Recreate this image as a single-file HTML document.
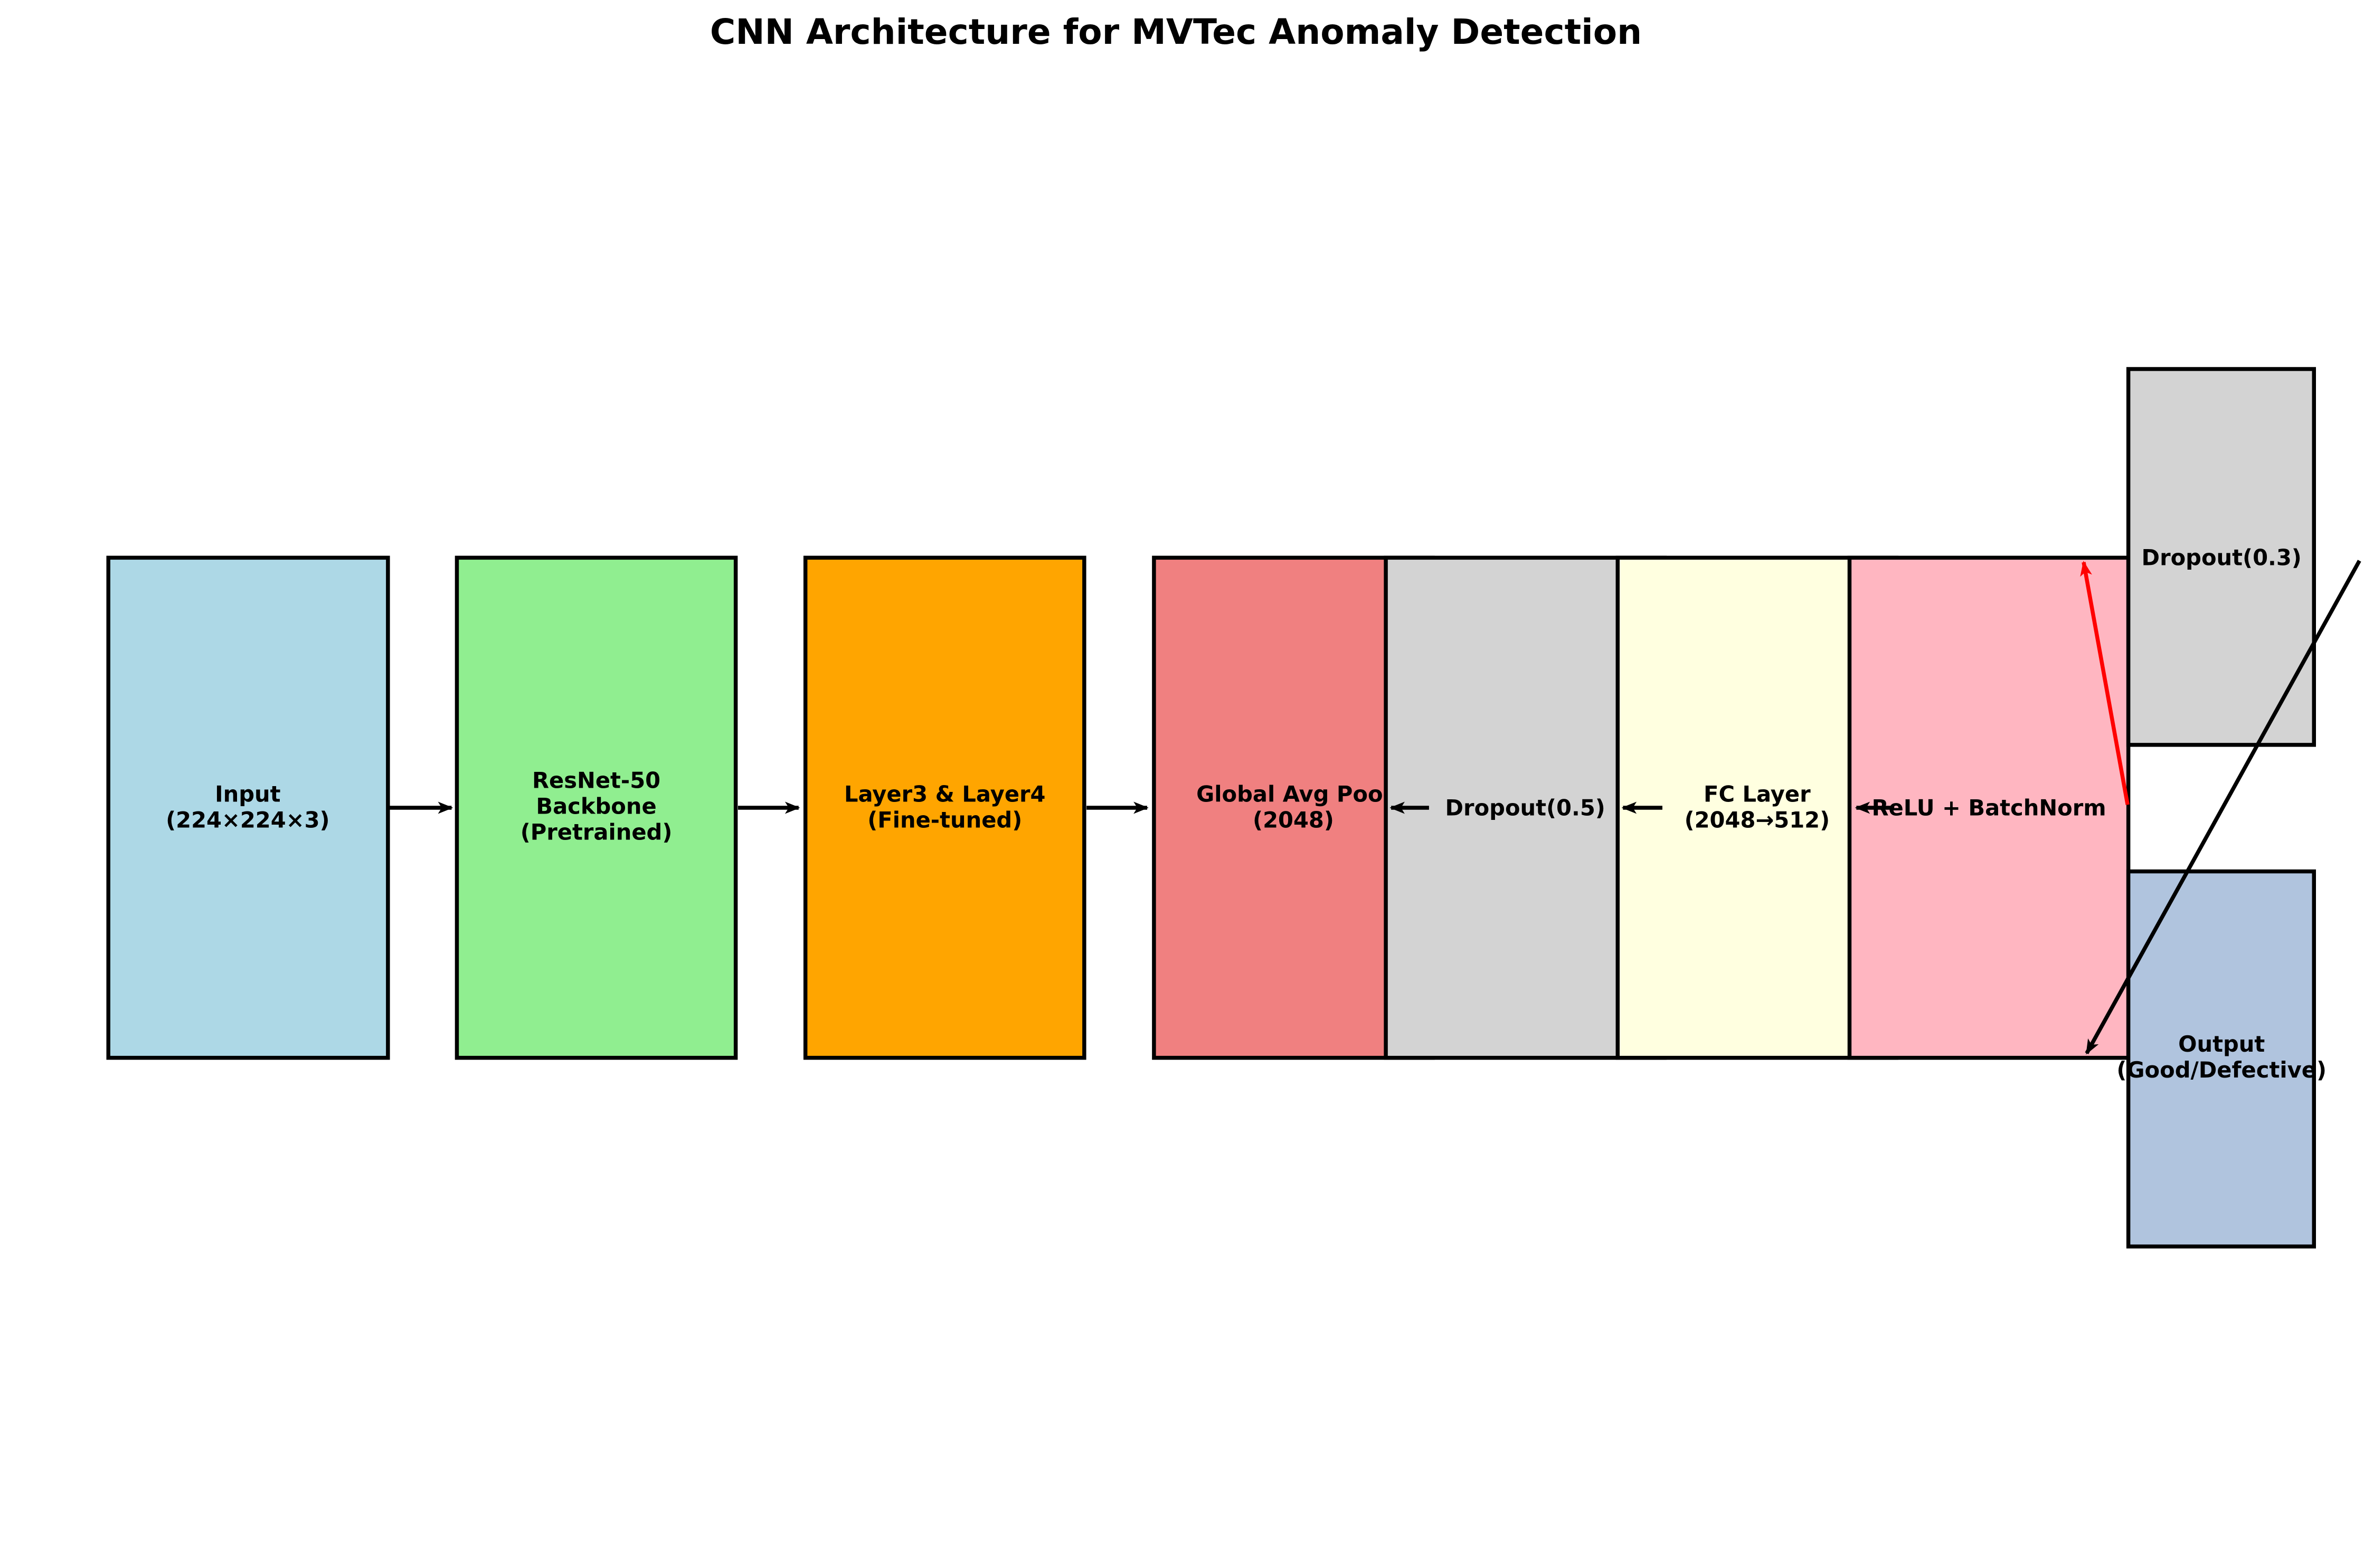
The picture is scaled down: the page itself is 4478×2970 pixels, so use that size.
<!DOCTYPE html>
<html><head><meta charset="utf-8"><style>
html,body{margin:0;padding:0;background:#fff;}
svg{display:block;}
text{font-family:"DejaVu Sans","Liberation Sans",sans-serif;font-weight:bold;}
</style></head><body>
<svg width="4478" height="2970" viewBox="0 0 1560 1034.65" xmlns="http://www.w3.org/2000/svg">
<defs>
<marker id="ah" markerWidth="10" markerHeight="8" refX="9" refY="4" orient="auto" markerUnits="userSpaceOnUse" viewBox="0 0 10 8"><path d="M0,0 L10,4 L0,8 L2.5,4 Z" fill="#000"/></marker>
<marker id="ahr" markerWidth="10" markerHeight="8" refX="9" refY="4" orient="auto" markerUnits="userSpaceOnUse" viewBox="0 0 10 8"><path d="M0,0 L10,4 L0,8 L2.5,4 Z" fill="#f00"/></marker>
</defs>
<text x="776" y="29" font-size="23" text-anchor="middle">CNN Architecture for MVTec Anomaly Detection</text>
<g stroke="#000" stroke-width="2.6" font-size="14.5" text-anchor="middle">
<rect x="71.5" y="368" width="184.5" height="330" fill="#add8e6"/>
<text stroke="none" x="163.5" y="529">Input</text><text stroke="none" x="163.5" y="546">(224×224×3)</text>
<rect x="301.5" y="368" width="184" height="330" fill="#90ee90"/>
<text stroke="none" x="393.5" y="520">ResNet-50</text><text stroke="none" x="393.5" y="537">Backbone</text><text stroke="none" x="393.5" y="554">(Pretrained)</text>
<rect x="531.5" y="368" width="184" height="330" fill="#ffa500"/>
<text stroke="none" x="623.5" y="529">Layer3 &amp; Layer4</text><text stroke="none" x="623.5" y="546">(Fine-tuned)</text>
<rect x="761.5" y="368" width="184" height="330" fill="#f08080"/>
<text stroke="none" x="853.5" y="529">Global Avg Pool</text><text stroke="none" x="853.5" y="546">(2048)</text>
<rect x="914.5" y="368" width="184" height="330" fill="#d3d3d3"/>
<text stroke="none" x="1006.5" y="538">Dropout(0.5)</text>
<rect x="1067.5" y="368" width="184" height="330" fill="#ffffe0"/>
<text stroke="none" x="1159.5" y="529">FC Layer</text><text stroke="none" x="1159.5" y="546">(2048→512)</text>
<rect x="1220.5" y="368" width="184" height="330" fill="#ffb6c1"/>
<text stroke="none" x="1312.5" y="538">ReLU + BatchNorm</text>
<rect x="1404.5" y="243.5" width="122.5" height="248" fill="#d3d3d3"/>
<text stroke="none" x="1466" y="373">Dropout(0.3)</text>
<rect x="1404.5" y="575" width="122.5" height="247.5" fill="#b0c4de"/>
<text stroke="none" x="1466" y="694">Output</text><text stroke="none" x="1466" y="711">(Good/Defective)</text>
</g>
<g stroke="#000" stroke-width="2.6" fill="none">
<line x1="257" y1="533" x2="298" y2="533" marker-end="url(#ah)"/>
<line x1="487" y1="533" x2="527" y2="533" marker-end="url(#ah)"/>
<line x1="717" y1="533" x2="757" y2="533" marker-end="url(#ah)"/>
<line x1="943" y1="533" x2="918" y2="533" marker-end="url(#ah)"/>
<line x1="1097" y1="533" x2="1071" y2="533" marker-end="url(#ah)"/>
<line x1="1250" y1="533" x2="1225" y2="533" marker-end="url(#ah)"/>
<line x1="1557" y1="370" x2="1377" y2="695" marker-end="url(#ah)"/>
<line x1="1404" y1="531" x2="1375" y2="371" stroke="#f00" marker-end="url(#ahr)"/>
</g>
</svg>
</body></html>
